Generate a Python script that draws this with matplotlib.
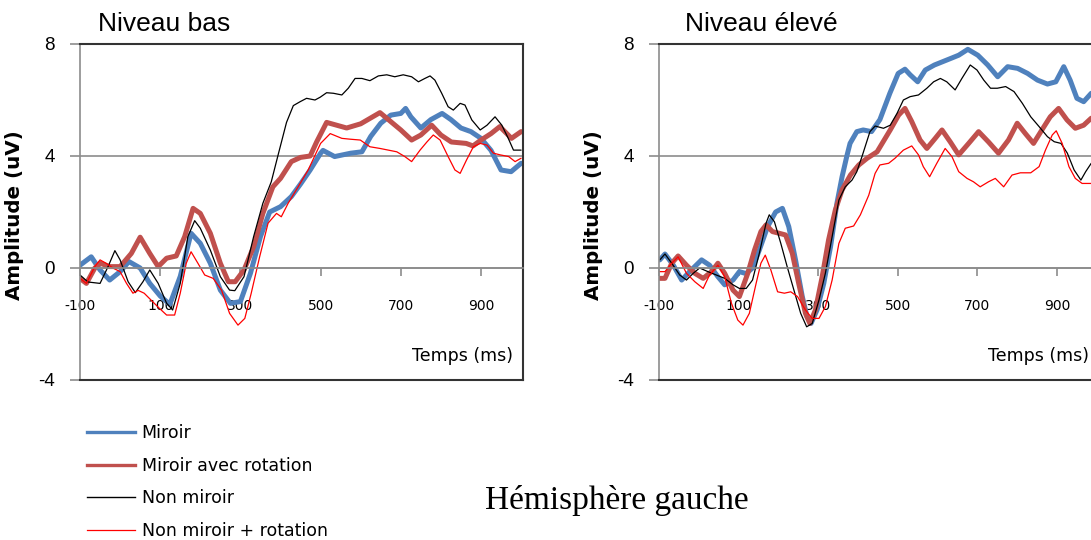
import matplotlib
matplotlib.use('Agg')
import matplotlib.pyplot as plt
from matplotlib.lines import Line2D

# ---- data (time in ms, amplitude in uV) ----
# Niveau bas
t_mir_bas = [-100, -72, -50, -26, 0, 22, 50, 74, 100, 124, 150, 177, 200, 225, 250, 275, 300, 325, 350, 373,
             400, 427, 450, 474, 500, 506, 535, 575, 603, 625, 650, 675, 700, 712, 725, 750, 775, 803, 825, 850,
             875, 900, 925, 950, 975, 1000]
v_mir_bas = [0.1, 0.4, -0.07, -0.43, -0.13, 0.23, 0.0, -0.55, -1.0, -1.3, -0.3, 1.24, 0.88, 0.17, -0.79, -1.26,
             -1.2, -0.19, 1.12, 2.0, 2.19, 2.55, 3.0, 3.5, 4.1, 4.2, 3.98, 4.1, 4.15, 4.7, 5.17, 5.46, 5.52, 5.7,
             5.4, 5.0, 5.3, 5.52, 5.3, 5.0, 4.87, 4.63, 4.2, 3.5, 3.44, 3.74]

t_rot_bas = [-100, -84, -63, -50, -26, 0, 28, 50, 74, 95, 116, 140, 161, 182, 200, 225, 250, 270, 287, 309,
             333, 356, 381, 400, 427, 450, 474, 490, 515, 540, 565, 600, 648, 700, 727, 750, 777, 800, 826, 863,
             880, 900, 925, 947, 976, 1000]
v_rot_bas = [-0.37, -0.55, 0.0, 0.17, 0.05, 0.05, 0.52, 1.1, 0.52, 0.05, 0.35, 0.43, 1.12, 2.13, 1.95, 1.24,
             0.17, -0.49, -0.49, -0.07, 0.76, 1.95, 2.9, 3.2, 3.8, 3.95, 4.0, 4.5, 5.2, 5.1, 5.0, 5.15, 5.55,
             4.93, 4.57, 4.75, 5.1, 4.75, 4.5, 4.45, 4.36, 4.57, 4.8, 5.05, 4.63, 4.87]

t_non_bas = [-100, -80, -50, -30, -13, 0, 20, 38, 57, 74, 95, 116, 131, 150, 169, 186, 200, 225, 250, 273,
             286, 309, 333, 356, 377, 393, 415, 432, 449, 465, 486, 499, 515, 532, 553, 569, 586, 603, 623, 644,
             665, 685, 706, 727, 744, 760, 773, 785, 802, 818, 831, 848, 860, 877, 898, 915, 935, 952, 968, 981,
             1000]
v_non_bas = [-0.25, -0.5, -0.55, 0.05, 0.62, 0.29, -0.49, -0.88, -0.49, -0.07, -0.55, -1.26, -1.5, -0.55, 1.12,
             1.69, 1.42, 0.64, -0.31, -0.79, -0.81, -0.31, 1.12, 2.31, 3.08, 3.98, 5.2, 5.8, 5.94, 6.06, 6.0,
             6.1, 6.26, 6.24, 6.18, 6.42, 6.77, 6.77, 6.69, 6.86, 6.9, 6.83, 6.9, 6.83, 6.65, 6.77, 6.86, 6.71,
             6.24, 5.76, 5.64, 5.88, 5.82, 5.29, 4.93, 5.1, 5.4, 5.1, 4.63, 4.21, 4.21]

t_nr_bas = [-100, -84, -63, -50, -35, -18, 0, 16, 32, 45, 60, 74, 95, 116, 136, 150, 165, 177, 194, 211,
            232, 253, 273, 294, 311, 327, 348, 369, 390, 402, 419, 444, 469, 500, 524, 553, 574, 599, 623, 648,
            669, 690, 710, 727, 748, 765, 781, 798, 818, 835, 848, 864, 881, 898, 915, 931, 948, 969, 985, 1000]
v_nr_bas = [-0.37, -0.55, 0.05, 0.29, 0.17, 0.0, -0.13, -0.55, -0.9, -0.8, -0.9, -1.1, -1.4, -1.68, -1.68,
            -0.9, 0.17, 0.58, 0.17, -0.25, -0.37, -0.79, -1.62, -2.04, -1.8, -0.9, 0.4, 1.6, 1.95, 1.83, 2.31,
            2.9, 3.5, 4.45, 4.8, 4.63, 4.6, 4.57, 4.33, 4.27, 4.21, 4.15, 3.98, 3.8, 4.21, 4.5, 4.75, 4.57,
            3.98, 3.5, 3.38, 3.86, 4.33, 4.45, 4.39, 4.1, 4.04, 3.98, 3.8, 3.92]

# Niveau élevé
t_mir_el = [-98, -85, -64, -43, -23, 7, 27, 48, 65, 86, 102, 119, 135, 152, 173, 193, 210, 226, 243, 260,
            272, 282, 297, 314, 331, 347, 360, 372, 380, 397, 413, 434, 455, 480, 501, 518, 531, 550, 569, 592,
            613, 634, 653, 676, 701, 726, 751, 776, 801, 826, 851, 876, 897, 917, 933, 950, 967, 986]
v_mir_el = [0.29, 0.5, 0.1, -0.43, -0.13, 0.29, 0.1, -0.31, -0.6, -0.43, -0.13, -0.2, 0.0, 0.64, 1.48, 2.0,
            2.13, 1.48, 0.29, -1.02, -1.74, -1.98, -1.5, -0.55, 0.76, 2.31, 3.26, 4.0, 4.45, 4.87, 4.93, 4.87,
            5.3, 6.24, 6.95, 7.1, 6.9, 6.65, 7.07, 7.25, 7.37, 7.49, 7.6, 7.81, 7.6, 7.25, 6.83, 7.19, 7.13,
            6.95, 6.71, 6.57, 6.65, 7.19, 6.71, 6.06, 5.94, 6.24]

t_rot_el = [-98, -85, -68, -52, -31, -10, 11, 32, 48, 65, 86, 102, 123, 140, 156, 169, 185, 202, 218, 235,
            251, 268, 279, 293, 310, 326, 343, 360, 381, 402, 423, 448, 481, 502, 518, 535, 556, 573, 594, 611,
            632, 653, 678, 703, 728, 753, 778, 800, 820, 841, 862, 883, 904, 925, 946, 967, 986]
v_rot_el = [-0.37, -0.37, 0.17, 0.43, 0.1, -0.19, -0.37, -0.13, 0.17, -0.19, -0.79, -1.02, -0.19, 0.64, 1.3,
            1.54, 1.3, 1.24, 1.18, 0.52, -0.55, -1.62, -1.98, -1.5, -0.31, 1.0, 2.07, 2.79, 3.32, 3.68, 3.92,
            4.15, 4.93, 5.46, 5.7, 5.23, 4.57, 4.27, 4.63, 4.93, 4.5, 4.04, 4.45, 4.87, 4.5, 4.1, 4.57, 5.17,
            4.81, 4.45, 4.93, 5.4, 5.7, 5.29, 4.99, 5.1, 5.35]

t_non_el = [-98, -85, -68, -48, -31, -14, 2, 23, 44, 65, 86, 102, 119, 135, 152, 169, 177, 190, 206, 222,
            239, 256, 271, 285, 302, 318, 335, 352, 368, 385, 397, 410, 430, 443, 464, 481, 498, 514, 531, 552,
            573, 590, 607, 623, 644, 661, 682, 699, 716, 733, 750, 771, 792, 813, 834, 855, 876, 893, 910, 926,
            943, 960, 972, 986]
v_non_el = [0.29, 0.5, 0.17, -0.25, -0.43, -0.19, 0.0, -0.13, -0.25, -0.37, -0.6, -0.73, -0.73, -0.43, 0.52,
            1.6, 1.9, 1.65, 0.88, 0.05, -0.79, -1.62, -2.1, -1.98, -1.14, -0.19, 1.12, 2.43, 2.9, 3.14, 3.44,
            3.98, 4.87, 5.07, 4.99, 5.1, 5.52, 6.0, 6.12, 6.18, 6.42, 6.65, 6.77, 6.65, 6.36, 6.77, 7.25, 7.07,
            6.71, 6.42, 6.42, 6.48, 6.3, 5.88, 5.4, 5.05, 4.69, 4.51, 4.45, 4.1, 3.5, 3.14, 3.44, 3.74]

t_nr_el = [-98, -85, -68, -52, -31, -10, 11, 27, 48, 65, 82, 98, 111, 127, 144, 156, 167, 181, 198, 215,
           231, 248, 268, 285, 302, 318, 335, 352, 368, 389, 406, 427, 443, 455, 477, 493, 514, 535, 552, 564,
           580, 598, 619, 636, 653, 674, 690, 707, 728, 745, 766, 787, 808, 834, 855, 871, 888, 898, 913, 930,
           946, 963, 986]
v_nr_el = [-0.13, -0.13, 0.17, 0.4, -0.19, -0.49, -0.73, -0.25, 0.1, -0.31, -1.26, -1.86, -2.04, -1.62, -0.55,
           0.17, 0.46, -0.07, -0.85, -0.9, -0.85, -1.02, -1.5, -1.8, -1.8, -1.38, -0.43, 0.88, 1.42, 1.5, 1.9,
           2.6, 3.38, 3.68, 3.74, 3.92, 4.21, 4.36, 4.04, 3.62, 3.26, 3.74, 4.27, 3.98, 3.44, 3.2, 3.08, 2.9,
           3.08, 3.2, 2.9, 3.32, 3.4, 3.4, 3.62, 4.21, 4.75, 4.9, 4.45, 3.62, 3.2, 3.02, 3.02]

labels = ['Miroir', 'Miroir avec rotation', 'Non miroir', 'Non miroir + rotation']
colors = ['#4F81BD', '#C0504D', '#000000', '#FF0000']
widths = [3.6, 3.6, 0.9, 0.9]
xticks = [-100, 100, 300, 500, 700, 900]
yticks = [-4, 0, 4, 8]

GRAY = '#8c8c8c'
DARK = '#333333'


def style_panel(ax, title, title_x):
    ax.set_xlim(-100, 1004)
    ax.set_ylim(-4, 8)
    ax.set_axisbelow(True)
    ax.set_yticks(yticks)
    ax.set_yticklabels([str(y) for y in yticks], fontfamily='Liberation Sans', fontsize=13.5)
    ax.set_xticks(xticks)
    ax.set_xticklabels([str(x) for x in xticks], fontsize=12)
    ax.grid(axis='y', color=GRAY, lw=1.2)
    # x axis crosses at 0
    ax.spines['bottom'].set_position(('data', 0))
    ax.spines['bottom'].set_color(GRAY)
    ax.spines['bottom'].set_linewidth(1.2)
    ax.spines['left'].set_color(GRAY)
    ax.spines['left'].set_linewidth(1.2)
    for s in ['top', 'right']:
        ax.spines[s].set_color(DARK)
        ax.spines[s].set_linewidth(1.5)
    ax.axhline(-4, color=DARK, lw=1.5, clip_on=False, zorder=3)
    ax.tick_params(axis='x', direction='out', length=6, width=1.2, color=GRAY, pad=16)
    ax.tick_params(axis='y', direction='out', length=7, width=1.2, color=GRAY, pad=11)
    ax.set_ylabel('Amplitude (uV)', fontweight='bold', fontsize=14.3)
    ax.yaxis.set_label_coords(-0.127, 0.49)
    ax.text(0.978, 0.071, 'Temps (ms)', transform=ax.transAxes, ha='right', va='center', fontsize=12.5)
    ax.text(title_x, 1.06, title, transform=ax.transAxes, ha='left', va='center',
            fontfamily='Liberation Sans', fontsize=19)


fig = plt.figure(figsize=(10.91, 5.40), dpi=100)
fig.patch.set_facecolor('white')

ax1 = fig.add_axes([80 / 1091, 1 - 380 / 540, 442.7 / 1091, 336 / 540])
ax2 = fig.add_axes([659 / 1091, 1 - 380 / 540, 439.4 / 1091, 336 / 540])

bas = [(t_mir_bas, v_mir_bas), (t_rot_bas, v_rot_bas), (t_non_bas, v_non_bas), (t_nr_bas, v_nr_bas)]
eleve = [(t_mir_el, v_mir_el), (t_rot_el, v_rot_el), (t_non_el, v_non_el), (t_nr_el, v_nr_el)]

for (t, v), c, w in zip(bas, colors, widths):
    ax1.plot(t, v, color=c, lw=w, solid_joinstyle='round', solid_capstyle='round')
for (t, v), c, w in zip(eleve, colors, widths):
    ax2.plot(t, v, color=c, lw=w, solid_joinstyle='round', solid_capstyle='round')

style_panel(ax1, 'Niveau bas', 0.04)
style_panel(ax2, 'Niveau élevé', 0.059)

# legend
handles = [Line2D([], [], color=c, lw=lw) for c, lw in zip(colors, [2.4, 2.4, 1.0, 0.9])]
fig.legend(handles, labels, loc='upper left', bbox_to_anchor=(86.7 / 1091, 1 - 424 / 540),
           frameon=False, fontsize=12.5, handlelength=2.78, handletextpad=0.38,
           labelspacing=0.84, borderpad=0, borderaxespad=0)

fig.text(617 / 1091, 1 - 500 / 540, 'Hémisphère gauche', fontfamily='Liberation Serif',
         fontsize=24, ha='center', va='center')

fig.savefig('out.png', dpi=100)
